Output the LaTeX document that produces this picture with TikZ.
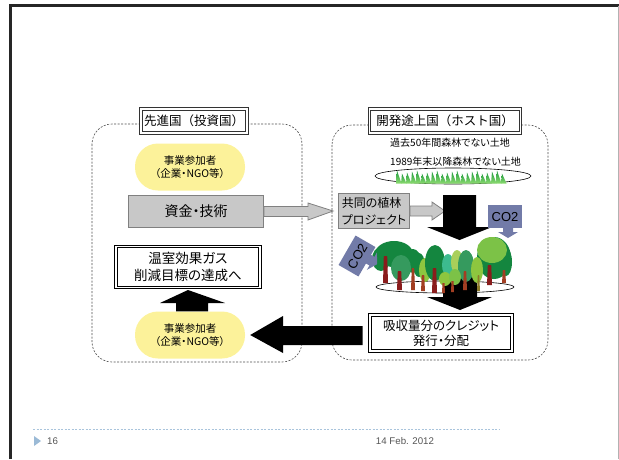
\documentclass[tikz,border=0pt]{standalone}
\usepackage{fontspec}
\setmainfont{Liberation Sans}
\newfontfamily\jp[RawFeature=+palt]{Noto Sans CJK JP}
\newfontfamily\jpfull{Noto Sans CJK JP}
\usetikzlibrary{positioning}

\definecolor{actorfill}{HTML}{FCF29A}
\definecolor{boxgray}{HTML}{C8C8C8}
\definecolor{boxedge}{HTML}{808080}
\definecolor{cotwo}{HTML}{727BA8}
\definecolor{leafdark}{HTML}{14863F}
\definecolor{leafmid}{HTML}{359A5E}
\definecolor{leafteal}{HTML}{3DBB8E}
\definecolor{leaflight}{HTML}{8DC63F}
\definecolor{leaflime}{HTML}{A9CF5A}
\definecolor{leafround}{HTML}{7CC247}
\definecolor{trunkdark}{HTML}{8A1C1C}
\definecolor{trunkbrown}{HTML}{A23E22}
\definecolor{trunkolive}{HTML}{8C7B2A}
\definecolor{grassdark}{HTML}{1E9B3C}
\definecolor{grasslight}{HTML}{8EDC72}
\definecolor{footline}{HTML}{A9C4DC}
\definecolor{footmark}{HTML}{9BBAD6}
\definecolor{foottext}{HTML}{555555}

\begin{document}
\begin{tikzpicture}[x=1pt, y=-1pt,
  region/.style={draw=black!70, dash pattern=on 2pt off 1.5pt, rounded corners=20pt, line width=0.6pt},
  heading/.style={draw=black!80, double=white, double distance=1.2pt, line width=1pt, fill=white, inner sep=2pt, font=\jpfull\fontsize{12.5}{14}\selectfont},
  actor/.style={fill=actorfill, rounded corners=23pt, minimum width=110pt, minimum height=47pt, align=center, font=\jp\fontsize{10.5}{13}\selectfont},
  graybox/.style={fill=boxgray, draw=boxedge, line width=0.8pt},
  goalbox/.style={draw=black, double=white, double distance=1.2pt, line width=1pt, fill=white, align=center},
  grayarrow/.style={fill=boxgray, draw=boxedge, line width=0.8pt},
  blockarrow/.style={fill=black},
  note/.style={font=\jp\fontsize{10}{12}\selectfont, inner sep=0pt},
  footer/.style={font=\fontsize{9.7}{11}\selectfont, text=foottext, inner sep=0pt},
  co2/.pic={
    \fill[cotwo] (-17,-11.5) rectangle (17,11.5);
    \fill[cotwo] (-2,11) -- (-2,15.5) -- (-7,15.5) -- (3,21.5) -- (13,15.5) -- (8,15.5) -- (8,11) -- cycle;
    \node[transform shape, inner sep=0pt, font=\fontsize{13}{13}\selectfont] at (0,0.5) {CO2};
  }]
\useasboundingbox (0,0) rectangle (619,459);

% slide frame
\draw[black!85, line width=2.5pt] (10.5,459) -- (10.5,5.5) -- (619,5.5);
\draw[black!30, line width=1pt] (618,5.5) -- (618,459);

% the two countries
\draw[region] (92,124) rectangle (302,362);
\draw[region] (332,125) rectangle (548,360);
\node[heading, minimum width=106pt, minimum height=24pt] (investTitle) at (194,121) {先進国（投資国）};
\node[heading, minimum width=151pt, minimum height=24pt] (hostTitle) at (445,121) {開発途上国（ホスト国）};

% investing side
\node[actor] (investor) at (190,167) {事業参加者\\（企業・NGO等）};
\node[graybox, minimum width=135pt, minimum height=32pt, font=\jp\fontsize{14}{16}\selectfont] (fund) at (196,211.5) {資金・技術};
\node[goalbox, minimum width=144pt, minimum height=41pt, font=\jp\fontsize{13.5}{17}\selectfont] (goal) at (188,267) {温室効果ガス\\削減目標の達成へ};
\node[actor] (participant) at (190,335) {事業参加者\\（企業・NGO等）};

% host side
\node[note, anchor=west] (land50) at (390,143) {過去50年間森林でない土地};
\node[note, anchor=west] (land89) at (390,162) {1989年末以降森林でない土地};
\draw[line width=0.6pt] (453,176) ellipse [x radius=78, y radius=8];
\foreach \i in {0,...,21}{
  \pgfmathsetmacro\gx{396+5*\i}
  \pgfmathsetmacro\gt{170.5+mod(3*\i,4)}
  \shade[top color=grassdark, bottom color=grasslight] (\gx,183.5) -- (\gx+1,\gt) -- (\gx+5.5,183.5) -- cycle;
}
\node[graybox, minimum width=71pt, minimum height=31pt, align=left, font=\jp\fontsize{12}{17}\selectfont] (project) at (374,211) {共同の植林\\プロジェクト};

% arrows between the boxes
\draw[grayarrow] ([yshift=5pt]fund.east) -- (308,206.5) -- (308,203) -- ([xshift=-5pt]project.west)
  -- (308,220) -- (308,216.5) -- ([yshift=-5pt]fund.east) -- cycle;
\draw[grayarrow] ([yshift=5pt]project.east) -- (432,206) -- (432,202) -- (445,211)
  -- (432,220) -- (432,216) -- ([yshift=-5pt]project.east) -- cycle;
\fill[blockarrow] (443,195) -- (476,195) -- (476,227) -- (492,227) -- (459.5,240) -- (427,227) -- (443,227) -- cycle;

% forest
\draw[line width=0.6pt] (445,287) ellipse [x radius=69, y radius=6];
\fill[blockarrow] (443,270) -- (477,270) -- (477,297) -- (492,297) -- (460,310) -- (427,297) -- (443,297) -- cycle;
\foreach \cx/\cy/\rx/\ry/\c in {
  381/259/9/12/leafdark, 394/254/19/13/leafdark, 413/261/8/12/leafdark,
  401/268/10/13/leafmid, 419/265/6/12/leafdark, 425/270/6/12/leaflight,
  435/263/10/18/leafdark, 448/265/6/11/leafteal, 457/262/6/12/leaflime,
  466/266/8/16/leafmid, 494/258/17/21/leafdark, 506/262/6/14/leafdark,
  477/270/6/13/leaflight, 492/250/15/13/leafround}
  \fill[\c] (\cx,\cy) ellipse [x radius=\rx, y radius=\ry];
\foreach \l/\r/\t/\b/\c in {
  383/388/256/283/trunkdark, 397/402/271/290/trunkdark, 411/415/268/290/trunkbrown,
  421/425/275/291/trunkbrown, 432/437/268/293/trunkdark, 463/467/271/290/trunkbrown,
  477/480/275/291/trunkolive, 487/492/265/285/trunkdark, 502/506/270/283/trunkbrown}
  \fill[\c] (\l+0.8,\t) -- (\r-0.8,\t) -- (\r,\b) -- (\l,\b) -- cycle;
\fill[leaflight] (445,279) ellipse [x radius=6, y radius=7];
\fill[leafround] (455,277) ellipse [x radius=6, y radius=8];
\foreach \l/\r/\t/\b/\c in {442/445/283/293/trunkbrown, 451/454/281/292/trunkbrown}
  \fill[\c] (\l+0.5,\t) -- (\r-0.5,\t) -- (\r,\b) -- (\l,\b) -- cycle;
\pic at (505,216.5) {co2};
\pic[rotate=60] at (357,256) {co2};

\node[goalbox, minimum width=142pt, minimum height=36pt, font=\jp\fontsize{12.5}{15}\selectfont] (credit) at (441,333) {吸収量分のクレジット\\発行・分配};

% credits back to the participants, then on to the target
\fill[blockarrow] ([xshift=-7pt, yshift=7pt]credit.west) -- (283,326) -- (283,316) -- ([xshift=5pt]participant.east)
  -- (283,353) -- (283,345) -- ([xshift=-7pt, yshift=-12pt]credit.west) -- cycle;
\fill[blockarrow] ([xshift=-14pt]participant.north) -- (176,303) -- (160,303) -- ([yshift=-2pt]goal.south)
  -- (225,303) -- (208,303) -- ([xshift=18pt]participant.north) -- cycle;

% footer
\draw[footline, dash pattern=on 2pt off 1.5pt, line width=0.6pt] (33,429) -- (499,429);
\fill[footmark] (34,436) -- (41,441) -- (34,446) -- cycle;
\node[footer, anchor=west] (pageNo) at (47,441) {16};
\node[footer] (slideDate) at (405,441) {14 Feb. 2012};
\end{tikzpicture}
\end{document}
